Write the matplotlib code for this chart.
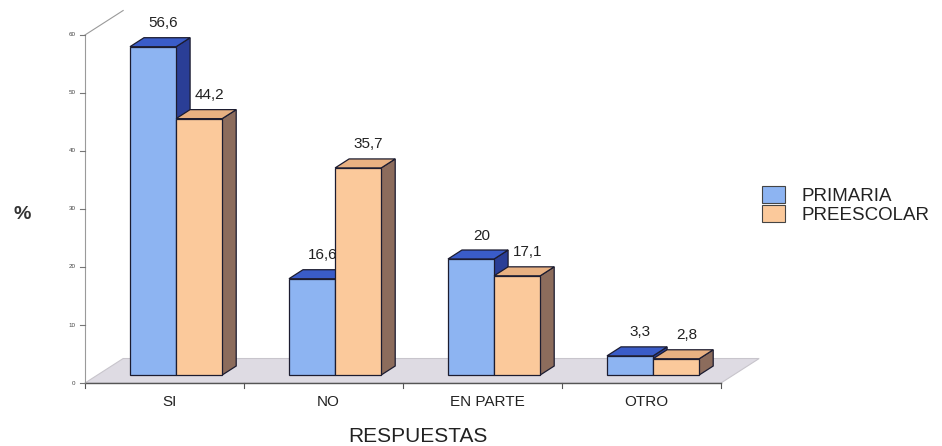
import matplotlib.pyplot as plt
from matplotlib.patches import Polygon, Patch

# datos del grafico
categorias = ['SI', 'NO', 'EN PARTE', 'OTRO']
primaria = [56.6, 16.6, 20, 3.3]
preescolar = [44.2, 35.7, 17.1, 2.8]
series = ['PRIMARIA', 'PREESCOLAR']
yticks = [0, 10, 20, 30, 40, 50, 60]

plt.rcParams['font.family'] = ['Liberation Sans', 'DejaVu Sans']

# colores: frente, arriba, lado
col_pri = ('#8db4f2', '#3a5cc8', '#2a3e96')
col_pre = ('#fbc99b', '#e8b182', '#8c6c5c')
borde = '#1c1c30'

fig = plt.figure(figsize=(9.42, 4.46), dpi=100)
ax = fig.add_axes([0, 0, 1, 1])
ax.set_xlim(-1.0346, 4.890)
ax.set_ylim(-10.86, 66.03)
ax.axis('off')

# profundidad del piso y de las barras (unidades de datos)
fdx, fdy = 0.24, 4.22
bdx, bdy = 0.088, 1.55
sx, sy = 0.073, 1.38
w = 0.29
n = len(categorias)

# piso
piso = Polygon([(-0.5, 0), (n - 0.5, 0), (n - 0.5 + fdx, fdy), (-0.5 + fdx, fdy)],
               closed=True, facecolor='#dedbe3', edgecolor='#c8c5cc', lw=0.8, zorder=1)
ax.add_patch(piso)
ax.plot([-0.5, n - 0.5], [0, 0], color='#555555', lw=1.0, zorder=2)
for i in range(n + 1):
    ax.plot([i - 0.5, i - 0.5], [0, -0.8], color='#555555', lw=0.8, zorder=2)

# eje y
ax.plot([-0.5, -0.5], [0, 60], color='#9a9a9a', lw=0.8, zorder=2)
ax.plot([-0.5, -0.5 + fdx], [60, 60 + fdy], color='#9a9a9a', lw=0.8, zorder=2)
for t in yticks:
    ax.plot([-0.53, -0.5], [t, t], color='#777777', lw=0.8, zorder=2)
    ax.text(-0.56, t, str(t), ha='right', va='center', fontsize=4.5, color='#444444')


def caja(x0, y0, h, cols):
    x1 = x0 + w
    y1 = y0 + h
    frente = Polygon([(x0, y0), (x1, y0), (x1, y1), (x0, y1)], closed=True,
                     facecolor=cols[0], edgecolor=borde, lw=0.9, zorder=3)
    arriba = Polygon([(x0, y1), (x1, y1), (x1 + bdx, y1 + bdy), (x0 + bdx, y1 + bdy)],
                     closed=True, facecolor=cols[1], edgecolor=borde, lw=0.9, zorder=3)
    lado = Polygon([(x1, y0), (x1 + bdx, y0 + bdy), (x1 + bdx, y1 + bdy), (x1, y1)],
                   closed=True, facecolor=cols[2], edgecolor=borde, lw=0.9, zorder=3)
    for p in (lado, arriba, frente):
        ax.add_patch(p)


for i in range(n):
    for j, (vals, cols) in enumerate([(primaria, col_pri), (preescolar, col_pre)]):
        x0 = i + sx - w + j * w
        caja(x0, sy, vals[i], cols)
        etiqueta = ('%g' % vals[i]).replace('.', ',')
        ax.text(x0 + w / 2 + 0.065, sy + vals[i] + bdy + 2.5, etiqueta,
                ha='center', va='center', fontsize=11, color='#222222', zorder=4)

# etiquetas de categorias
for i, c in enumerate(categorias):
    ax.text(i + 0.03, 1 - 402 / 446, c, transform=ax.get_xaxis_transform(),
            ha='center', va='center', fontsize=11, color='#222222')

fig.text(418 / 942, 1 - 437 / 446, 'RESPUESTAS', ha='center', va='center',
         fontsize=15, color='#222222')
fig.text(22 / 942, 1 - 215 / 446, '%', ha='center', va='center',
         fontsize=14, fontweight='bold', color='#333333')

handles = [Patch(facecolor=col_pri[0], edgecolor='#444444', lw=0.8),
           Patch(facecolor=col_pre[0], edgecolor='#444444', lw=0.8)]
ax.legend(handles, series, loc='upper left', bbox_to_anchor=(762 / 942, 1 - 186 / 446),
          frameon=False, fontsize=13.5, handlelength=1.2, handleheight=1.0,
          labelspacing=0.0, handletextpad=0.9, borderpad=0, borderaxespad=0,
          labelcolor='#222222')

fig.savefig('out.png', dpi=100)
